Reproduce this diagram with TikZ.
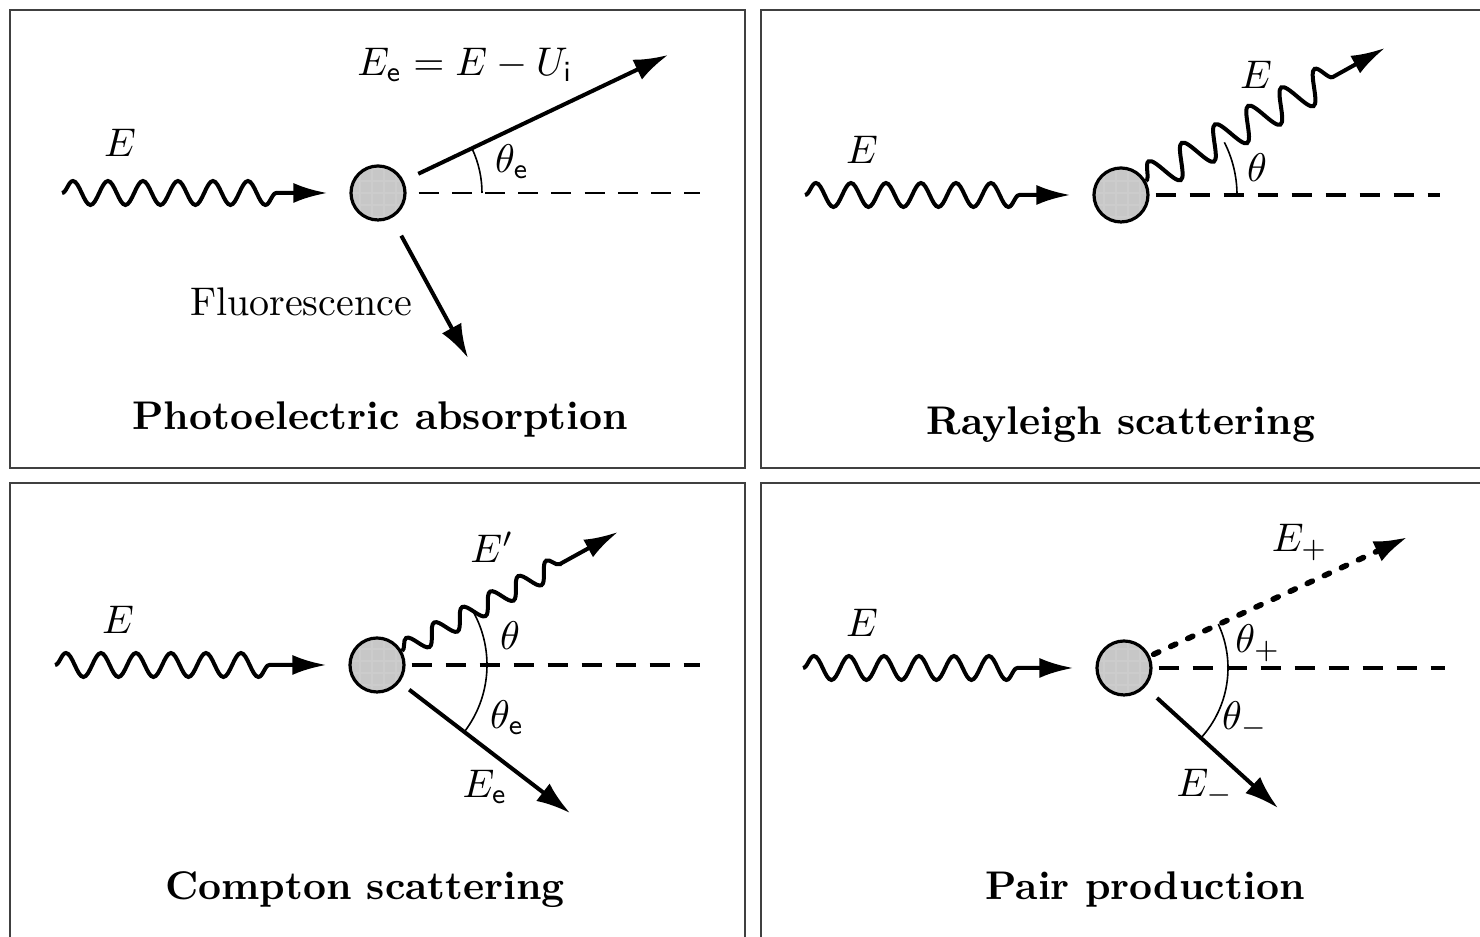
\documentclass[tikz,border=0pt]{standalone}
\usetikzlibrary{arrows.meta,decorations.pathmorphing,patterns}
\begin{document}
\begin{tikzpicture}[x=0.25pt,y=0.25pt,
  panel/.style={draw=black!75,line width=0.6pt},
  atom/.style={circle,draw,line width=0.8pt,minimum size=13.5pt,inner sep=0pt,preaction={fill=black!22},pattern=grid,pattern color=white!80!black},
  photon/.style={line width=1pt,-{Latex[length=8.5pt,width=5pt]},decorate,decoration={snake,amplitude=3pt,segment length=8.75pt,post length=16pt}},
  elec/.style={line width=1pt,-{Latex[length=8.5pt,width=5.5pt]}},
  posi/.style={line width=1.4pt,line cap=round,dash pattern=on 1.4pt off 3.3pt,-{Latex[length=8.5pt,width=5.5pt]}},
  thindash/.style={line width=0.5pt,dash pattern=on 5pt off 3.3pt},
  thickdash/.style={line width=1.2pt,dash pattern=on 5pt off 3.5pt},
  angarc/.style={line width=0.4pt},
  title/.style={font=\bfseries}]
\useasboundingbox (0,0) rectangle (1480,-937);
\draw[panel] (10,-10) rectangle (745,-468);
\draw[panel] (761,-10) rectangle (1495,-468);
\draw[panel] (10,-483) rectangle (745,-950);
\draw[panel] (761,-483) rectangle (1495,-950);

% photoelectric absorption
\node[atom] (a1) at (378,-193) {};
\coordinate (in1) at (62,-193);
\coordinate (d1) at (700,-193);
\coordinate (e1) at (668,-55);
\coordinate (f1) at (468,-358);
\draw[photon,shorten >=5.5pt] (in1) -- (a1);
\draw[thindash,shorten <=3pt] (a1) -- (d1);
\draw[elec,shorten <=4pt] (a1) -- (e1);
\draw[elec,shorten <=5pt] (a1) -- (f1);
\draw[angarc] ([shift={(0:26pt)}]a1.center) arc[start angle=0,end angle=25,radius=26pt];
\node (lE1) at (120,-143) {$E$};
\node (lEe1) at (465,-65) {$E_{\mathsf{e}} = E - U_{\mathsf{i}}$};
\node (lth1) at (512,-162) {$\theta_{\mathsf{e}}$};
\node (lfl1) at (301,-302) {Fluorescence};
\node[title] (t1) at (380,-420) {Photoelectric absorption};

% rayleigh scattering
\node[atom] (a2) at (1121,-195) {};
\coordinate (in2) at (805,-195);
\coordinate (d2) at (1440,-195);
\coordinate (o2) at (1385,-48);
\draw[photon,shorten >=5.5pt] (in2) -- (a2);
\draw[thickdash,shorten <=1.5pt] (a2) -- (d2);
\draw[photon,decoration={snake,amplitude=4pt,segment length=9.5pt,post length=11.25pt}] (a2) -- (o2);
\draw[angarc] ([shift={(0:29pt)}]a2.center) arc[start angle=0,end angle=27,radius=29pt];
\node (lE2) at (862,-150) {$E$};
\node (lEo2) at (1256,-75) {$E$};
\node (lth2) at (1257,-168) {$\theta$};
\node[title] (t2) at (1121,-425) {Rayleigh scattering};

% compton scattering
\node[atom] (a3) at (377,-665) {};
\coordinate (in3) at (55,-665);
\coordinate (d3) at (700,-665);
\coordinate (o3) at (618,-532);
\coordinate (e3) at (570,-813);
\draw[photon,shorten >=5.5pt] (in3) -- (a3);
\draw[thickdash,shorten <=1.5pt] (a3) -- (d3);
\draw[photon,decoration={snake,amplitude=2.4pt,segment length=8pt,post length=14pt}] (a3) -- (o3);
\draw[elec,shorten <=3pt] (a3) -- (e3);
\draw[angarc] ([shift={(-37.5:27.5pt)}]a3.center) arc[start angle=-37.5,end angle=29,radius=27.5pt];
\node (lE3) at (118,-620) {$E$};
\node (lEo3) at (492,-547) {$E'$};
\node (lth3) at (510,-636) {$\theta$};
\node (lthe3) at (507,-718) {$\theta_{\mathsf{e}}$};
\node (lEe3) at (485,-787) {$E_{\mathsf{e}}$};
\node[title] (t3) at (365,-890) {Compton scattering};

% pair production
\node[atom] (a4) at (1124,-668) {};
\coordinate (in4) at (803,-668);
\coordinate (d4) at (1445,-668);
\coordinate (p4) at (1408,-537);
\coordinate (e4) at (1278,-808);
\draw[photon,shorten >=5.5pt] (in4) -- (a4);
\draw[thickdash,shorten <=1.5pt] (a4) -- (d4);
\draw[posi,shorten <=1pt] (a4) -- (p4);
\draw[elec,shorten <=4pt] (a4) -- (e4);
\draw[angarc] ([shift={(-42:26pt)}]a4.center) arc[start angle=-42,end angle=25,radius=26pt];
\node (lE4) at (862,-623) {$E$};
\node (lEp4) at (1300,-543) {$E_+$};
\node (lthp4) at (1258,-643) {$\theta_+$};
\node (lthm4) at (1245,-720) {$\theta_-$};
\node (lEm4) at (1205,-788) {$E_-$};
\node[title] (t4) at (1145,-890) {Pair production};
\end{tikzpicture}
\end{document}
